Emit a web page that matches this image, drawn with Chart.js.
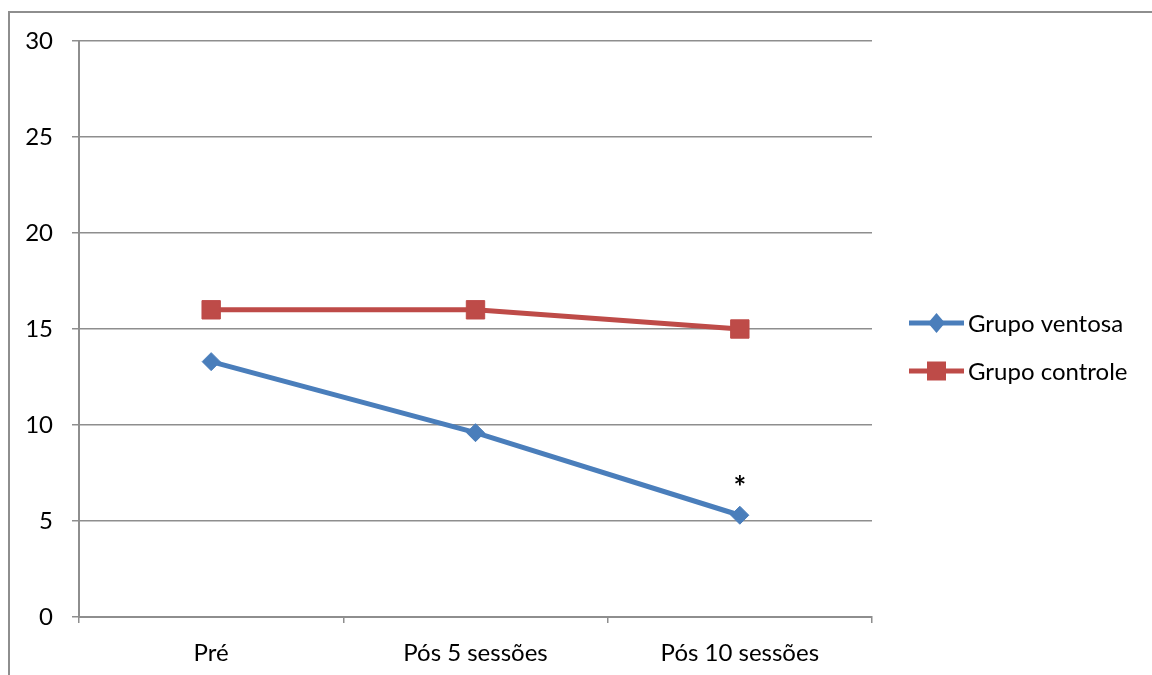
<!DOCTYPE html>
<html>
<head>
<meta charset="utf-8">
<script src="https://cdn.jsdelivr.net/npm/chart.js@4.4.1/dist/chart.umd.min.js"></script>
<style>
    html, body { margin: 0; padding: 0; background: #fff; }
    #wrap { position: relative; width: 1152px; height: 675px; }
    #frame {
        position: absolute; left: 8px; top: 11px; right: 0; bottom: 0;
        border-left: 2px solid #8e8e8e; border-top: 2px solid #8e8e8e;
        pointer-events: none;
    }
</style>
</head>
<body>
<div id="wrap">
    <canvas id="chart" width="1152" height="675"></canvas>
    <div id="frame"></div>
</div>
<script>
// Chart data
const categories = ['Pré', 'Pós 5 sessões', 'Pós 10 sessões'];
const ventosaValues = [13.3, 9.6, 5.3];
const controleValues = [16, 16, 15];
const seriesLabels = ['Grupo ventosa', 'Grupo controle'];
const yTicks = [0, 5, 10, 15, 20, 25, 30];
const significantIndex = 2; // the "*" above Grupo ventosa at Pós 10 sessões

const FONT = 'Lato';
const FONT_SIZE = 24;
const blue = '#4a7ebb';
const red = '#be4b48';
const gridColor = '#8e8e8e';

/**
 * Draws the legend on the right: a line sample with its marker, then the label.
 */
const sideLegend = {
    id: 'sideLegend',
    afterDraw(chart) {
        const ctx = chart.ctx;
        const startY = 323;
        const stepY = 48;
        ctx.save();
        chart.data.datasets.forEach((ds, i) => {
            const y = startY + i * stepY;
            const x0 = 909, x1 = 964, cx = (x0 + x1) / 2;
            ctx.strokeStyle = ds.borderColor;
            ctx.lineWidth = ds.borderWidth;
            ctx.beginPath();
            ctx.moveTo(x0, y);
            ctx.lineTo(x1, y);
            ctx.stroke();
            ctx.fillStyle = ds.pointBackgroundColor;
            ctx.beginPath();
            if (ds.pointStyle === 'rect') {
                ctx.rect(cx - 9.5, y - 9.5, 19, 19);
            } else {
                ctx.moveTo(cx, y - 10);
                ctx.lineTo(cx + 8.5, y);
                ctx.lineTo(cx, y + 10);
                ctx.lineTo(cx - 8.5, y);
                ctx.closePath();
            }
            ctx.fill();
            ctx.fillStyle = '#000';
            ctx.font = `${FONT_SIZE}px ${FONT}`;
            ctx.textAlign = 'left';
            ctx.textBaseline = 'middle';
            ctx.fillText(ds.label, 968, y + 1);
        });
        ctx.restore();
    }
};

/**
 * Puts the significance mark above the chosen point of the first series.
 */
const starMark = {
    id: 'starMark',
    afterDatasetsDraw(chart) {
        const { ctx, scales } = chart;
        const x = scales.x.getPixelForValue(significantIndex);
        const y = scales.y.getPixelForValue(ventosaValues[significantIndex]);
        ctx.save();
        ctx.fillStyle = '#000';
        ctx.font = `bold 30px ${FONT}`;
        ctx.textAlign = 'center';
        ctx.textBaseline = 'middle';
        ctx.fillText('*', x, y - 27);
        ctx.restore();
    }
};

document.addEventListener('DOMContentLoaded', function () {
    const ctx = document.getElementById('chart');
    new Chart(ctx, {
        type: 'line',
        data: {
            labels: categories,
            datasets: [
                {
                    label: seriesLabels[0],
                    data: ventosaValues,
                    borderColor: blue,
                    backgroundColor: blue,
                    pointBackgroundColor: blue,
                    pointBorderColor: blue,
                    borderWidth: 5,
                    pointStyle: 'rectRot',
                    pointRadius: 9,
                    pointBorderWidth: 1,
                    tension: 0
                },
                {
                    label: seriesLabels[1],
                    data: controleValues,
                    borderColor: red,
                    backgroundColor: red,
                    pointBackgroundColor: red,
                    pointBorderColor: red,
                    borderWidth: 5,
                    pointStyle: 'rect',
                    pointRadius: 13,
                    pointBorderWidth: 1,
                    tension: 0
                }
            ]
        },
        options: {
            responsive: false,
            animation: false,
            devicePixelRatio: 1,
            layout: { padding: { top: 41, right: 280, bottom: 0, left: 0 } },
            plugins: {
                legend: { display: false },
                tooltip: { enabled: false }
            },
            scales: {
                x: {
                    offset: true,
                    afterFit: (scale) => { scale.height = 58; },
                    grid: {
                        display: true,
                        offset: true,
                        drawOnChartArea: false,
                        drawTicks: true,
                        tickLength: 6,
                        color: gridColor,
                        lineWidth: 1.5
                    },
                    border: { display: true, color: gridColor, width: 2 },
                    ticks: {
                        color: '#000',
                        padding: 16,
                        maxRotation: 0,
                        font: { family: FONT, size: FONT_SIZE }
                    }
                },
                y: {
                    min: 0,
                    max: 30,
                    afterFit: (scale) => { scale.width = 79; },
                    afterBuildTicks: (scale) => {
                        scale.ticks = yTicks.map(v => ({ value: v }));
                    },
                    grid: {
                        color: gridColor,
                        lineWidth: 1.5,
                        drawTicks: true,
                        tickLength: 7
                    },
                    border: { display: true, color: gridColor, width: 2 },
                    ticks: {
                        color: '#000',
                        padding: 19,
                        font: { family: FONT, size: FONT_SIZE }
                    }
                }
            }
        },
        plugins: [sideLegend, starMark]
    });
});
</script>
</body>
</html>
